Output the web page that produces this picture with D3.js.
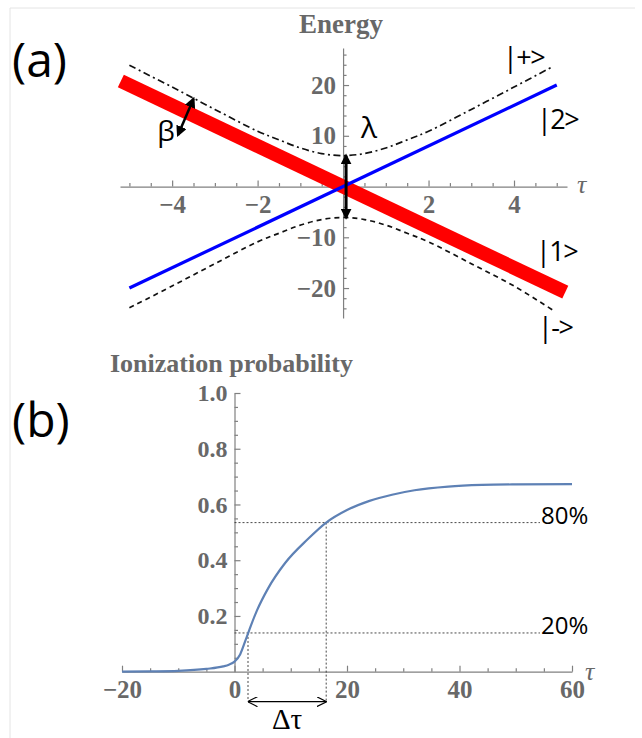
<!DOCTYPE html>
<html>
<head>
<meta charset="utf-8">
<script src="https://cdnjs.cloudflare.com/ajax/libs/d3/7.8.5/d3.min.js"></script>
<style>
  html, body { margin: 0; padding: 0; background: #fff; }
  svg { display: block; }
</style>
</head>
<body>
<svg id="chart" width="642" height="738"></svg>
<script>
// ---------------- DATA ----------------
// Panel (a): energy vs tau
const topXTicks = [-4, -2, 2, 4];
const topYTicks = [-20, -10, 10, 20];
const state2Tau = [-5, 5];            // |2>  (blue, diabatic)
const state2E   = [-20, 20];
const state1Tau = [-5.2, 5.2];        // |1>  (red, broad diabatic)
const state1E   = [20.8, -20.8];
const adiaTau   = [-5, -4, -3, -2, -1.5, -1, -0.5, 0, 0.5, 1, 1.5, 2, 3, 4, 4.9];
const plusE     = [23.9, 19.6, 15.2, 10.9, 9.2, 7.6, 6.5, 6.1, 6.5, 7.6, 9.2, 10.9, 15.2, 19.6, 23.6];
const minusE    = [-23.9, -19.6, -15.2, -10.9, -9.2, -7.6, -6.5, -6.1, -6.5, -7.6, -9.2, -10.9, -15.2, -19.6, -24.3];
const stateLabels = ["|+>", "|2>", "|1>", "|->"];

// Panel (b): ionization probability vs tau
const botXTicks = [-20, 0, 20, 40, 60];
const botYTicks = [0.2, 0.4, 0.6, 0.8, 1.0];
const ionTau  = [-20, -15, -10, -5, -2, -1, 0, 1, 2, 3, 4, 6, 9, 13, 16.3, 20, 24, 28, 32, 38, 44, 50, 60];
const ionProb = [0, 0.001, 0.003, 0.01, 0.019, 0.025, 0.036, 0.062, 0.115, 0.17, 0.22, 0.3, 0.39, 0.475, 0.535, 0.58, 0.613, 0.635, 0.651, 0.664, 0.67, 0.672, 0.673];
const levelNames = ["20%", "80%"];
const levelTau   = [2.4, 16.3];
const levelProb  = [0.139, 0.535];
const levelEndTau = 54.3;

// ---------------- DRAWING ----------------
const svg = d3.select("#chart");
const gray = "#686868";
const axisColor = "#808080";
const serif = "'Liberation Serif', 'Times New Roman', serif";
const sans = "'Open Sans', 'Liberation Sans', sans-serif";

// faint frame
svg.append("line").attr("x1", 10).attr("y1", 8).attr("x2", 635).attr("y2", 8).attr("stroke", "#e4e4e4");
svg.append("line").attr("x1", 10).attr("y1", 8).attr("x2", 10).attr("y2", 738).attr("stroke", "#e4e4e4");

// markers
const defs = svg.append("defs");
defs.append("marker").attr("id", "solid").attr("viewBox", "0 0 10 10")
  .attr("refX", 8).attr("refY", 5).attr("markerWidth", 11).attr("markerHeight", 11)
  .attr("markerUnits", "userSpaceOnUse").attr("orient", "auto-start-reverse")
  .append("path").attr("d", "M0,0 L10,5 L0,10 Z").attr("fill", "#000");
defs.append("marker").attr("id", "open").attr("viewBox", "0 0 10 10")
  .attr("refX", 9.5).attr("refY", 5).attr("markerWidth", 10).attr("markerHeight", 10)
  .attr("markerUnits", "userSpaceOnUse").attr("orient", "auto-start-reverse")
  .append("path").attr("d", "M0,0 L10,5 L0,10").attr("fill", "none").attr("stroke", "#000").attr("stroke-width", 1.2);

function styleAxis(g, fontSize) {
  g.select(".domain").attr("stroke", axisColor).attr("stroke-width", 1.2);
  g.selectAll(".tick line").attr("stroke", axisColor).attr("stroke-width", 1.2);
  g.selectAll(".tick text").attr("fill", gray).attr("font-family", serif)
    .attr("font-weight", "bold").attr("font-size", fontSize);
}

function minorValues(lo, hi, step, majors) {
  const out = [];
  const n = Math.round((hi - lo) / step);
  for (let i = 0; i <= n; i++) {
    const v = +(lo + i * step).toFixed(6);
    if (!majors.some(m => Math.abs(m - v) < 1e-9)) out.push(v);
  }
  return out;
}

// ----- Panel (a) -----
const xA = d3.scaleLinear().domain([-5.22, 5.24]).range([120, 567]);
const yA = d3.scaleLinear().domain([-25.9, 27.3]).range([318, 48]);

const gA = svg.append("g");
gA.append("g").attr("transform", `translate(0,${yA(0)})`)
  .call(d3.axisBottom(xA).tickValues(minorValues(-5, 5, 0.5, [...topXTicks, 0])).tickSizeInner(-3.5).tickSizeOuter(0).tickFormat(""))
  .call(g => { g.select(".domain").remove(); g.selectAll("line").attr("stroke", axisColor).attr("stroke-width", 1.2); });
gA.append("g").attr("transform", `translate(${xA(0)},0)`)
  .call(d3.axisLeft(yA).tickValues(minorValues(-24, 26, 2, topYTicks)).tickSizeInner(-3.5).tickSizeOuter(0).tickFormat(""))
  .call(g => { g.select(".domain").remove(); g.selectAll("line").attr("stroke", axisColor).attr("stroke-width", 1.2); });
gA.append("g").attr("transform", `translate(0,${yA(0)})`)
  .call(d3.axisBottom(xA).tickValues(topXTicks).tickSizeInner(-6).tickSizeOuter(0).tickPadding(9).tickFormat(d3.format("d")))
  .call(g => styleAxis(g, 25));
gA.append("g").attr("transform", `translate(${xA(0)},0)`)
  .call(d3.axisLeft(yA).tickValues(topYTicks).tickSizeInner(-6).tickSizeOuter(0).tickPadding(7).tickFormat(d3.format("d")))
  .call(g => styleAxis(g, 25));

const lineA = d3.line().x(d => xA(d[0])).y(d => yA(d[1]));
const lineAc = d3.line().x(d => xA(d[0])).y(d => yA(d[1])).curve(d3.curveCatmullRom.alpha(0.5));

gA.append("path").attr("d", lineA(state1Tau.map((t, i) => [t, state1E[i]])))
  .attr("stroke", "#ff0000").attr("stroke-width", 14).attr("fill", "none");
gA.append("path").attr("d", lineA(state2Tau.map((t, i) => [t, state2E[i]])))
  .attr("stroke", "#0000ff").attr("stroke-width", 3.2).attr("fill", "none");
gA.append("path").attr("d", lineAc(adiaTau.map((t, i) => [t, plusE[i]])))
  .attr("stroke", "#111").attr("stroke-width", 1.7).attr("fill", "none")
  .attr("stroke-dasharray", "7,3.5,2,3.5");
gA.append("path").attr("d", lineAc(adiaTau.map((t, i) => [t, minusE[i]])))
  .attr("stroke", "#111").attr("stroke-width", 1.7).attr("fill", "none")
  .attr("stroke-dasharray", "5,4");

// lambda arrow
gA.append("line").attr("x1", xA(0) + 3).attr("x2", xA(0) + 3)
  .attr("y1", yA(plusE[7])).attr("y2", yA(minusE[7]))
  .attr("stroke", "#000").attr("stroke-width", 3)
  .attr("marker-start", "url(#solid)").attr("marker-end", "url(#solid)");
gA.append("text").attr("x", 369).attr("y", 138).attr("text-anchor", "middle")
  .attr("font-family", sans).attr("font-size", 30).text("λ");

// beta arrow
gA.append("line").attr("x1", xA(-3.5)).attr("y1", yA(17.3))
  .attr("x2", 178).attr("y2", 135)
  .attr("stroke", "#000").attr("stroke-width", 2.5)
  .attr("marker-start", "url(#solid)").attr("marker-end", "url(#solid)");
gA.append("text").attr("x", 166).attr("y", 141).attr("text-anchor", "middle")
  .attr("font-family", sans).attr("font-size", 28).text("β");

// state labels
const labelPos = [[503, 67], [537, 129], [536, 261], [538, 337]];
stateLabels.forEach((s, i) => {
  gA.append("text").attr("x", labelPos[i][0]).attr("y", labelPos[i][1])
    .attr("font-family", sans).attr("font-size", 27).attr("letter-spacing", -1.5)
    .attr("fill", "#000").text(s);
});

gA.append("text").attr("x", 341).attr("y", 33).attr("text-anchor", "middle")
  .attr("font-family", serif).attr("font-weight", "bold").attr("font-size", 27)
  .attr("fill", gray).text("Energy");
gA.append("text").attr("x", 577).attr("y", 193)
  .attr("font-family", serif).attr("font-style", "italic").attr("font-size", 26)
  .attr("fill", gray).text("τ");

svg.append("text").attr("x", 12).attr("y", 77).attr("font-family", sans)
  .attr("font-size", 48).text("(a)");

// ----- Panel (b) -----
const xB = d3.scaleLinear().domain([-20, 60]).range([122, 572]);
const yB = d3.scaleLinear().domain([0, 1]).range([671.7, 393]);
const gB = svg.append("g");

gB.append("g").attr("transform", `translate(0,${yB(0)})`)
  .call(d3.axisBottom(xB).tickValues(minorValues(-20, 60, 5, botXTicks)).tickSizeInner(-3.5).tickSizeOuter(0).tickFormat(""))
  .call(g => { g.select(".domain").remove(); g.selectAll("line").attr("stroke", axisColor).attr("stroke-width", 1.2); });
gB.append("g").attr("transform", `translate(${xB(0)},0)`)
  .call(d3.axisLeft(yB).tickValues(minorValues(0.05, 0.95, 0.05, botYTicks)).tickSizeInner(-3.5).tickSizeOuter(0).tickFormat(""))
  .call(g => { g.select(".domain").remove(); g.selectAll("line").attr("stroke", axisColor).attr("stroke-width", 1.2); });
gB.append("g").attr("transform", `translate(0,${yB(0)})`)
  .call(d3.axisBottom(xB).tickValues(botXTicks).tickSizeInner(-6).tickSizeOuter(0).tickPadding(9).tickFormat(d3.format("d")))
  .call(g => styleAxis(g, 25));
gB.append("g").attr("transform", `translate(${xB(0)},0)`)
  .call(d3.axisLeft(yB).tickValues(botYTicks).tickSizeInner(-6).tickSizeOuter(0).tickPadding(7).tickFormat(d3.format(".1f")))
  .call(g => styleAxis(g, 24));

const arrowY = yB(0) + 30;
levelNames.forEach((name, i) => {
  gB.append("line").attr("x1", xB(0)).attr("x2", xB(levelEndTau))
    .attr("y1", yB(levelProb[i])).attr("y2", yB(levelProb[i]))
    .attr("stroke", "#333").attr("stroke-width", 0.9).attr("stroke-dasharray", "2,2");
  gB.append("line").attr("x1", xB(levelTau[i])).attr("x2", xB(levelTau[i]))
    .attr("y1", yB(levelProb[i])).attr("y2", arrowY)
    .attr("stroke", "#333").attr("stroke-width", 0.9).attr("stroke-dasharray", "2,2");
  gB.append("text").attr("x", xB(levelEndTau) + 1).attr("y", yB(levelProb[i]) + 1)
    .attr("font-family", sans).attr("font-size", 24).attr("fill", "#000").text(name);
});

gB.append("path").attr("d", d3.line().x(d => xB(d[0])).y(d => yB(d[1])).curve(d3.curveMonotoneX)(ionTau.map((t, i) => [t, ionProb[i]])))
  .attr("stroke", "#5e81b5").attr("stroke-width", 2.2).attr("fill", "none");

gB.append("line").attr("x1", xB(levelTau[0])).attr("x2", xB(levelTau[1]))
  .attr("y1", arrowY).attr("y2", arrowY).attr("stroke", "#000").attr("stroke-width", 1.3)
  .attr("marker-start", "url(#open)").attr("marker-end", "url(#open)");
gB.append("text").attr("x", (xB(levelTau[0]) + xB(levelTau[1])) / 2).attr("y", 729)
  .attr("text-anchor", "middle").attr("font-family", serif).attr("font-size", 29).text("Δτ");

gB.append("text").attr("x", 110).attr("y", 372)
  .attr("font-family", serif).attr("font-weight", "bold").attr("font-size", 26)
  .attr("fill", gray).text("Ionization probability");
gB.append("text").attr("x", 585).attr("y", 680)
  .attr("font-family", serif).attr("font-style", "italic").attr("font-size", 26)
  .attr("fill", gray).text("τ");

svg.append("text").attr("x", 12).attr("y", 437).attr("font-family", sans)
  .attr("font-size", 48).text("(b)");
</script>
</body>
</html>
